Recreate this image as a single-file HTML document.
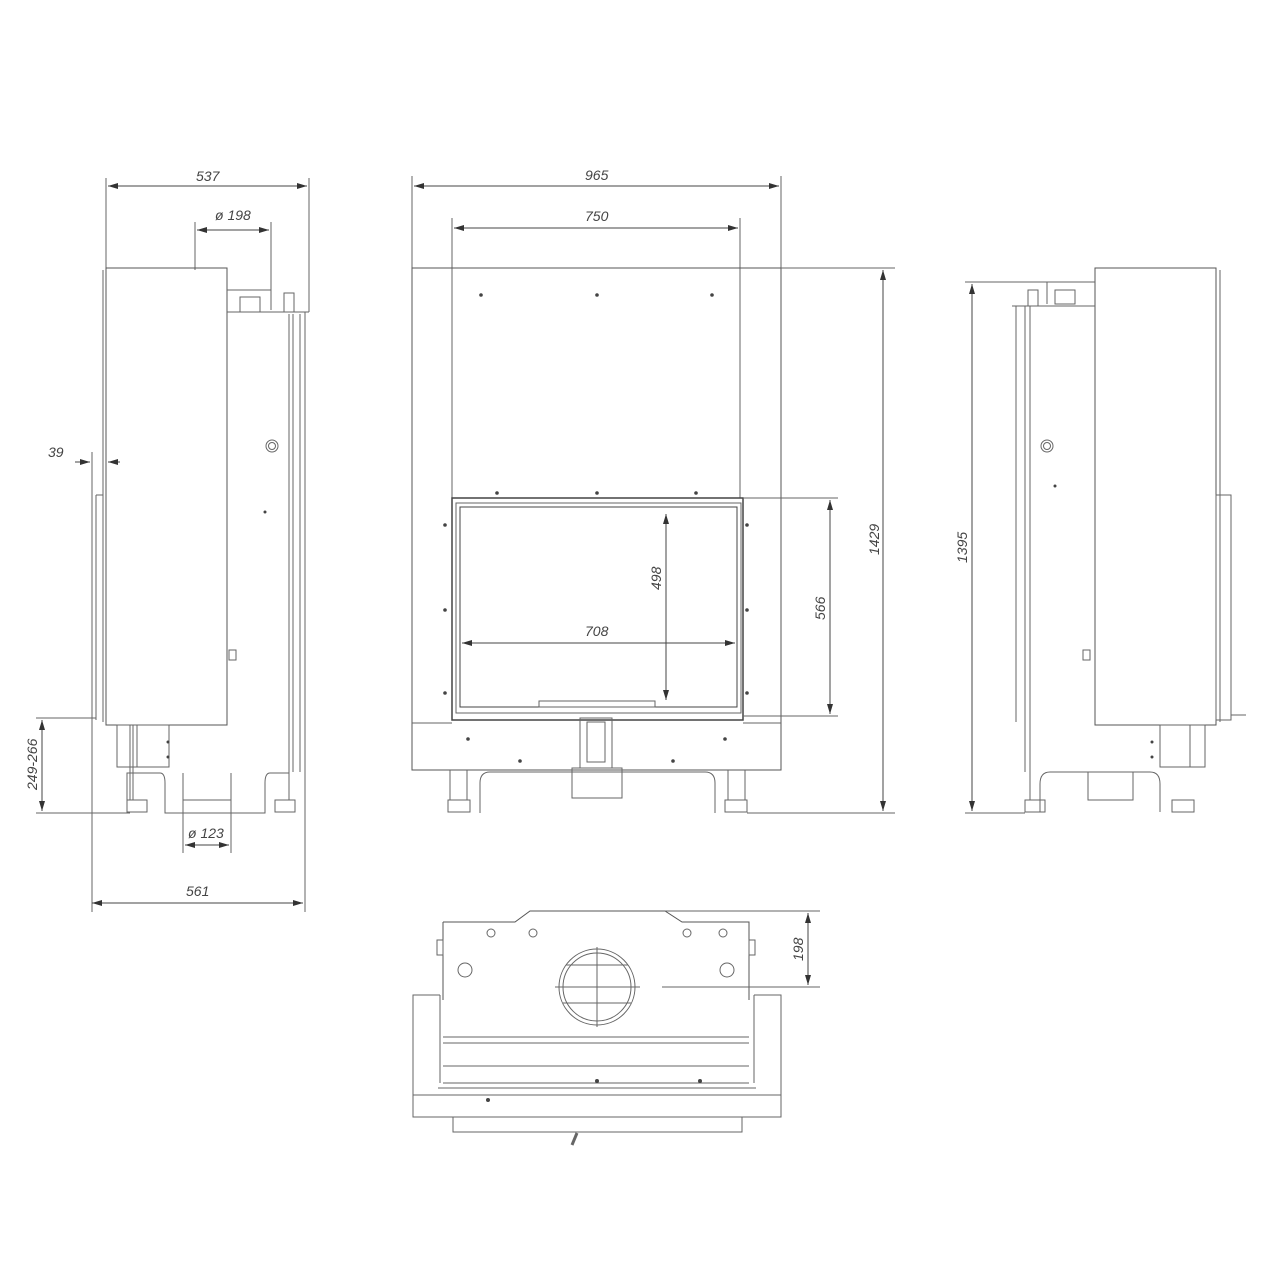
<!DOCTYPE html>
<html><head><meta charset="utf-8"><style>
html,body{margin:0;padding:0;background:#fff;width:1280px;height:1280px;overflow:hidden}
svg text{font-family:"Liberation Sans",sans-serif;font-style:italic;font-size:14px;fill:#444}
</style></head><body>
<svg width="1280" height="1280" viewBox="0 0 1280 1280" xmlns="http://www.w3.org/2000/svg">
<defs>
<marker id="a" viewBox="0 0 10 6" refX="10" refY="3" markerWidth="10" markerHeight="6" orient="auto-start-reverse"><path d="M0,0 L10,3 L0,6 z" fill="#333"/></marker>
</defs>
<g fill="none" stroke="#666" stroke-width="1">
<!-- LEFT SIDE VIEW -->
<line x1="106" y1="178" x2="106" y2="268"/><line x1="309" y1="178" x2="309" y2="312"/>
<line x1="108" y1="186" x2="307" y2="186" marker-start="url(#a)" marker-end="url(#a)" stroke="#444"/>
<line x1="195" y1="222" x2="195" y2="270"/><line x1="271" y1="222" x2="271" y2="310"/>
<line x1="197" y1="230" x2="269" y2="230" marker-start="url(#a)" marker-end="url(#a)" stroke="#444"/>
<rect x="106" y="268" width="121" height="457" stroke="#555"/>
<line x1="103" y1="270" x2="103" y2="722"/>
<line x1="227" y1="312" x2="309" y2="312"/>
<line x1="227" y1="290" x2="271" y2="290"/>
<rect x="240" y="297" width="20" height="15"/><rect x="284" y="293" width="10" height="19"/>
<line x1="289" y1="314" x2="289" y2="800"/><line x1="293" y1="314" x2="293" y2="772"/><line x1="300" y1="314" x2="300" y2="772"/>
<circle cx="272" cy="446" r="6"/><circle cx="272" cy="446" r="3.5"/>
<rect x="229" y="650" width="7" height="10"/>
<line x1="96" y1="495" x2="103" y2="495"/><line x1="96" y1="495" x2="96" y2="720"/>
<line x1="92" y1="452" x2="92" y2="912"/>
<line x1="75" y1="462" x2="90" y2="462" stroke="#444" marker-end="url(#a)"/>
<line x1="120" y1="462" x2="108" y2="462" stroke="#444" marker-end="url(#a)"/>
<line x1="36" y1="718" x2="96" y2="718"/><line x1="36" y1="813" x2="130" y2="813"/>
<line x1="42" y1="720" x2="42" y2="811" marker-start="url(#a)" marker-end="url(#a)" stroke="#444"/>
<rect x="117" y="725" width="20" height="42"/><rect x="137" y="725" width="32" height="42"/>
<path d="M127,800 V773 H160 Q165,773 165,783 V813 H265 V783 Q265,773 270,773 H289"/>
<line x1="183" y1="773" x2="183" y2="853"/><line x1="231" y1="773" x2="231" y2="853"/>
<line x1="183" y1="800" x2="231" y2="800"/>
<line x1="185" y1="845" x2="229" y2="845" marker-start="url(#a)" marker-end="url(#a)" stroke="#444"/>
<rect x="127" y="800" width="20" height="12"/><rect x="275" y="800" width="20" height="12"/>
<line x1="130" y1="725" x2="130" y2="800"/><line x1="133" y1="725" x2="133" y2="800"/>
<line x1="305" y1="312" x2="305" y2="912"/>
<line x1="92" y1="903" x2="303" y2="903" marker-start="url(#a)" marker-end="url(#a)" stroke="#444"/>

<!-- FRONT VIEW -->
<line x1="412" y1="176" x2="412" y2="268"/><line x1="781" y1="176" x2="781" y2="268"/>
<line x1="414" y1="186" x2="779" y2="186" marker-start="url(#a)" marker-end="url(#a)" stroke="#444"/>
<line x1="452" y1="218" x2="452" y2="498"/><line x1="740" y1="218" x2="740" y2="498"/>
<line x1="454" y1="228" x2="738" y2="228" marker-start="url(#a)" marker-end="url(#a)" stroke="#444"/>
<rect x="412" y="268" width="369" height="502" stroke="#555"/>
<line x1="781" y1="268" x2="895" y2="268"/>
<rect x="452" y="498" width="291" height="222" stroke="#444" stroke-width="1.5"/>
<rect x="460" y="507" width="277" height="200" stroke="#444"/>
<rect x="456" y="503" width="285" height="210"/>
<line x1="412" y1="723" x2="452" y2="723"/><line x1="743" y1="723" x2="781" y2="723"/>
<line x1="743" y1="498" x2="838" y2="498"/><line x1="743" y1="716" x2="838" y2="716"/>
<line x1="830" y1="500" x2="830" y2="714" marker-start="url(#a)" marker-end="url(#a)" stroke="#444"/>
<line x1="666" y1="514" x2="666" y2="700" marker-start="url(#a)" marker-end="url(#a)" stroke="#444"/>
<line x1="462" y1="643" x2="735" y2="643" marker-start="url(#a)" marker-end="url(#a)" stroke="#444"/>
<rect x="539" y="701" width="116" height="6"/>
<rect x="580" y="718" width="32" height="50"/><rect x="587" y="722" width="18" height="40"/>
<rect x="572" y="768" width="50" height="30"/>
<path d="M450,800 V770 M467,800 V770 M480,813 V783 Q480,772 490,772 H705 Q715,772 715,783 V813"/>
<path d="M728,800 V770 M745,800 V770"/>
<rect x="448" y="800" width="22" height="12"/><rect x="725" y="800" width="22" height="12"/>
<line x1="747" y1="813" x2="895" y2="813"/>
<line x1="883" y1="270" x2="883" y2="811" marker-start="url(#a)" marker-end="url(#a)" stroke="#444"/>

<!-- RIGHT SIDE VIEW -->
<rect x="1095" y="268" width="121" height="457" stroke="#555"/>
<line x1="1220" y1="270" x2="1220" y2="722"/>
<rect x="1216" y="495" width="15" height="225"/>
<line x1="1231" y1="715" x2="1246" y2="715"/>
<line x1="965" y1="282" x2="1095" y2="282"/>
<line x1="1047" y1="282" x2="1047" y2="304"/>
<rect x="1055" y="290" width="20" height="14"/><rect x="1028" y="290" width="10" height="16"/>
<line x1="1012" y1="306" x2="1095" y2="306"/>
<line x1="1016" y1="306" x2="1016" y2="722"/><line x1="1025" y1="306" x2="1025" y2="772"/><line x1="1030" y1="306" x2="1030" y2="800"/>
<circle cx="1047" cy="446" r="6"/><circle cx="1047" cy="446" r="3.5"/>
<rect x="1083" y="650" width="7" height="10"/>
<rect x="1160" y="725" width="30" height="42"/><rect x="1190" y="725" width="15" height="42"/>
<path d="M1040,812 V784 Q1040,772 1050,772 H1150 Q1160,772 1160,784 V812"/>
<rect x="1088" y="772" width="45" height="28"/>
<rect x="1025" y="800" width="20" height="12"/><rect x="1172" y="800" width="22" height="12"/>
<line x1="965" y1="813" x2="1025" y2="813"/>
<line x1="972" y1="284" x2="972" y2="811" marker-start="url(#a)" marker-end="url(#a)" stroke="#444"/>

<!-- BOTTOM (TOP) VIEW -->
<path d="M443,922 H515 L530,911 H665 L682,922 H749 V1000 M443,922 V1000" stroke="#555"/>
<line x1="665" y1="911" x2="820" y2="911"/>
<line x1="662" y1="987" x2="820" y2="987"/>
<line x1="808" y1="913" x2="808" y2="985" marker-start="url(#a)" marker-end="url(#a)" stroke="#444"/>
<rect x="437" y="940" width="6" height="15"/><rect x="749" y="940" width="6" height="15"/>
<circle cx="597" cy="987" r="38"/><circle cx="597" cy="987" r="34"/>
<line x1="555" y1="987" x2="640" y2="987"/><line x1="597" y1="947" x2="597" y2="1027"/>
<line x1="566" y1="965" x2="628" y2="965"/><line x1="563" y1="1003" x2="631" y2="1003"/>
<circle cx="465" cy="970" r="7"/><circle cx="727" cy="970" r="7"/>
<circle cx="491" cy="933" r="4"/><circle cx="533" cy="933" r="4"/><circle cx="687" cy="933" r="4"/><circle cx="723" cy="933" r="4"/>
<path d="M413,1095 V995 H440 M781,1095 V995 H754"/>
<line x1="440" y1="995" x2="440" y2="1083"/><line x1="754" y1="995" x2="754" y2="1083"/>
<line x1="443" y1="1037" x2="749" y2="1037"/><line x1="443" y1="1043" x2="749" y2="1043"/>
<line x1="443" y1="1066" x2="749" y2="1066"/><line x1="443" y1="1083" x2="749" y2="1083"/>
<line x1="438" y1="1088" x2="756" y2="1088"/>
<rect x="413" y="1095" width="368" height="22"/>
<rect x="453" y="1117" width="289" height="15"/>
<line x1="577" y1="1133" x2="572" y2="1145" stroke-width="3"/>
</g>
<g fill="#444">
<circle cx="481" cy="295" r="1.8"/><circle cx="597" cy="295" r="1.8"/><circle cx="712" cy="295" r="1.8"/>
<circle cx="497" cy="493" r="1.8"/><circle cx="597" cy="493" r="1.8"/><circle cx="696" cy="493" r="1.8"/>
<circle cx="445" cy="525" r="1.8"/><circle cx="445" cy="610" r="1.8"/><circle cx="445" cy="693" r="1.8"/>
<circle cx="747" cy="525" r="1.8"/><circle cx="747" cy="610" r="1.8"/><circle cx="747" cy="693" r="1.8"/>
<circle cx="468" cy="739" r="1.8"/><circle cx="725" cy="739" r="1.8"/><circle cx="520" cy="761" r="1.8"/><circle cx="673" cy="761" r="1.8"/>
<circle cx="265" cy="512" r="1.5"/><circle cx="1055" cy="486" r="1.5"/>
<circle cx="168" cy="742" r="1.5"/><circle cx="168" cy="757" r="1.5"/>
<circle cx="1152" cy="742" r="1.5"/><circle cx="1152" cy="757" r="1.5"/>
<circle cx="488" cy="1100" r="2"/><circle cx="597" cy="1081" r="2"/><circle cx="700" cy="1081" r="2"/>
</g>
<text x="196" y="181">537</text>
<text x="215" y="220">ø 198</text>
<text x="48" y="457">39</text>
<text x="0" y="0" transform="translate(37,790) rotate(-90)">249-266</text>
<text x="188" y="838">ø 123</text>
<text x="186" y="896">561</text>
<text x="585" y="180">965</text>
<text x="585" y="221">750</text>
<text x="585" y="636">708</text>
<text x="0" y="0" transform="translate(661,590) rotate(-90)">498</text>
<text x="0" y="0" transform="translate(825,620) rotate(-90)">566</text>
<text x="0" y="0" transform="translate(879,555) rotate(-90)">1429</text>
<text x="0" y="0" transform="translate(967,563) rotate(-90)">1395</text>
<text x="0" y="0" transform="translate(803,961) rotate(-90)">198</text>
</svg>
</body></html>
